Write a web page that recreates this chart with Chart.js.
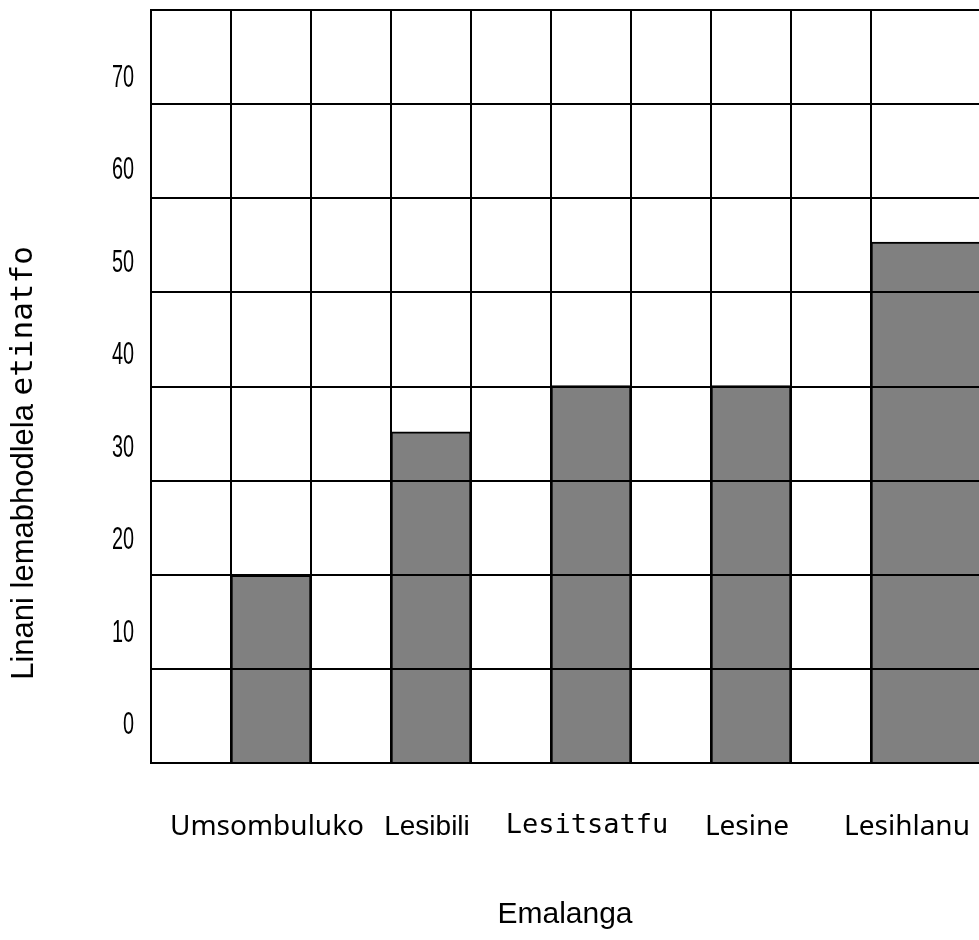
<!DOCTYPE html>
<html>
<head>
<meta charset="utf-8">
<script src="https://cdn.jsdelivr.net/npm/chart.js@4.4.1/dist/chart.umd.min.js"></script>
<style>
  html, body { margin: 0; padding: 0; background: #fff; overflow: hidden; }
  #wrap { width: 979px; height: 940px; }
</style>
</head>
<body>
<div id="wrap"><canvas id="chart"></canvas></div>
<script>
// data
const days = ['Umsombuluko', 'Lesibili', 'Lesitsatfu', 'Lesine', 'Lesihlanu'];
const bottles = [16, 31.5, 36.5, 36.5, 52];
const yTicks = [0, 10, 20, 30, 40, 50, 60, 70];
const xTitle = 'Emalanga';
const yTitleParts = ['Linani lemabhodlela ', 'etinatfo'];

const yMin = -4.3;
const yMax = 77.1;
const gridRows = 8;
const columns = days.length * 2;
const last = days.length - 1;

// each day takes two grid columns, the bar sits in the second one
function barCenter(i) {
    return 2 * i + 1.5;
}

const barPoints = days.slice(0, last).map((d, i) => ({ x: barCenter(i), y: bottles[i] }));
const lastPoint = [{ x: barCenter(last) + 0.5, y: bottles[last] }];

const tickFonts = [
    { family: '"Noto Sans", sans-serif', size: 28 },
    { family: '"Liberation Sans", sans-serif', size: 28 },
    { family: '"DejaVu Sans Mono", monospace', size: 27 },
    { family: '"Noto Sans", sans-serif', size: 28 },
    { family: '"Noto Sans", sans-serif', size: 28 }
];

function noPadding(s) {
    s.paddingTop = 0;
    s.paddingBottom = 0;
    s.paddingLeft = 0;
    s.paddingRight = 0;
}

// y title has two fonts in it, so it is drawn here
const yTitlePlugin = {
    id: 'yTitle',
    afterDraw(chart) {
        const ctx = chart.ctx;
        const fonts = ['31px "Liberation Sans"', '31px "DejaVu Sans Mono"'];
        ctx.save();
        const widths = yTitleParts.map((t, i) => {
            ctx.font = fonts[i];
            return ctx.measureText(t).width;
        });
        const total = widths.reduce((a, b) => a + b, 0);
        ctx.translate(24, 463);
        ctx.rotate(-Math.PI / 2);
        ctx.textBaseline = 'middle';
        ctx.textAlign = 'left';
        ctx.fillStyle = '#000';
        let pos = -total / 2;
        yTitleParts.forEach((t, i) => {
            ctx.font = fonts[i];
            ctx.fillText(t, pos, 0);
            pos += widths[i];
        });
        ctx.restore();
    }
};

// narrow tick numbers on the y axis
const yTickPlugin = {
    id: 'yTickLabels',
    afterDraw(chart) {
        const ctx = chart.ctx;
        const scale = chart.scales.y;
        ctx.save();
        ctx.font = '32px "Liberation Sans"';
        ctx.textAlign = 'right';
        ctx.textBaseline = 'middle';
        ctx.fillStyle = '#000';
        yTicks.forEach(v => {
            ctx.save();
            ctx.translate(scale.right - 17, scale.getPixelForValue(v) + 2);
            ctx.scale(0.62, 1);
            ctx.fillText(String(v), 0, 0);
            ctx.restore();
        });
        ctx.restore();
    }
};

Chart.defaults.color = '#000';

const barStyle = {
    xAxisID: 'x',
    yAxisID: 'y',
    base: yMin,
    backgroundColor: '#808080',
    borderColor: '#000',
    borderWidth: 2,
    grouped: true,
    stack: 'days'
};

const lineGrid = { color: '#000', lineWidth: 2, drawTicks: false, offset: false, z: 1 };
const lineBorder = { display: true, color: '#000', width: 2, z: 1 };

new Chart(document.getElementById('chart'), {
    type: 'bar',
    data: {
        datasets: [
            Object.assign({ label: 'bottles', data: barPoints, barThickness: 80 }, barStyle),
            Object.assign({ label: 'bottles-last', data: lastPoint, barThickness: 160 }, barStyle)
        ]
    },
    options: {
        responsive: true,
        maintainAspectRatio: false,
        animation: false,
        layout: { padding: { top: 10, left: 0, right: 0, bottom: 0 } },
        plugins: {
            legend: { display: false },
            tooltip: { enabled: false }
        },
        scales: {
            x: {
                type: 'linear',
                position: 'bottom',
                offset: false,
                weight: 0,
                min: 0,
                max: 10.35,
                afterBuildTicks: s => {
                    s.ticks = Array.from({ length: columns }, (v, i) => ({ value: i }));
                },
                afterFit: s => { s.height = 0; noPadding(s); },
                ticks: { display: false },
                grid: lineGrid,
                border: lineBorder
            },
            x2: {
                type: 'linear',
                position: 'bottom',
                offset: false,
                weight: 1,
                min: 0,
                max: 10.35,
                afterBuildTicks: s => {
                    s.ticks = days.map((d, i) => ({ value: barCenter(i) }));
                },
                afterFit: s => { s.height = 177; noPadding(s); },
                grid: { display: false, drawTicks: false, offset: false },
                border: { display: false },
                ticks: {
                    autoSkip: false,
                    maxRotation: 0,
                    minRotation: 0,
                    padding: 47,
                    labelOffset: -4,
                    font: c => tickFonts[c.index] || tickFonts[0],
                    callback: (v, i) => days[i]
                },
                title: {
                    display: true,
                    text: xTitle,
                    font: { family: '"Liberation Sans", sans-serif', size: 30 },
                    padding: { top: 0, bottom: 7 }
                }
            },
            y: {
                type: 'linear',
                position: 'left',
                weight: 1,
                min: yMin,
                max: yMax,
                stacked: false,
                afterBuildTicks: s => {
                    s.ticks = yTicks.map(v => ({ value: v }));
                },
                afterFit: s => { s.width = 151; noPadding(s); },
                grid: { display: false, drawTicks: false },
                border: { display: false },
                ticks: { display: false }
            },
            y2: {
                type: 'linear',
                position: 'left',
                weight: 0,
                min: 0,
                max: gridRows,
                afterBuildTicks: s => {
                    s.ticks = Array.from({ length: gridRows + 1 }, (v, i) => ({ value: i }));
                },
                afterFit: s => { s.width = 0; noPadding(s); },
                ticks: { display: false },
                grid: lineGrid,
                border: lineBorder
            }
        }
    },
    plugins: [yTitlePlugin, yTickPlugin]
});
</script>
</body>
</html>
